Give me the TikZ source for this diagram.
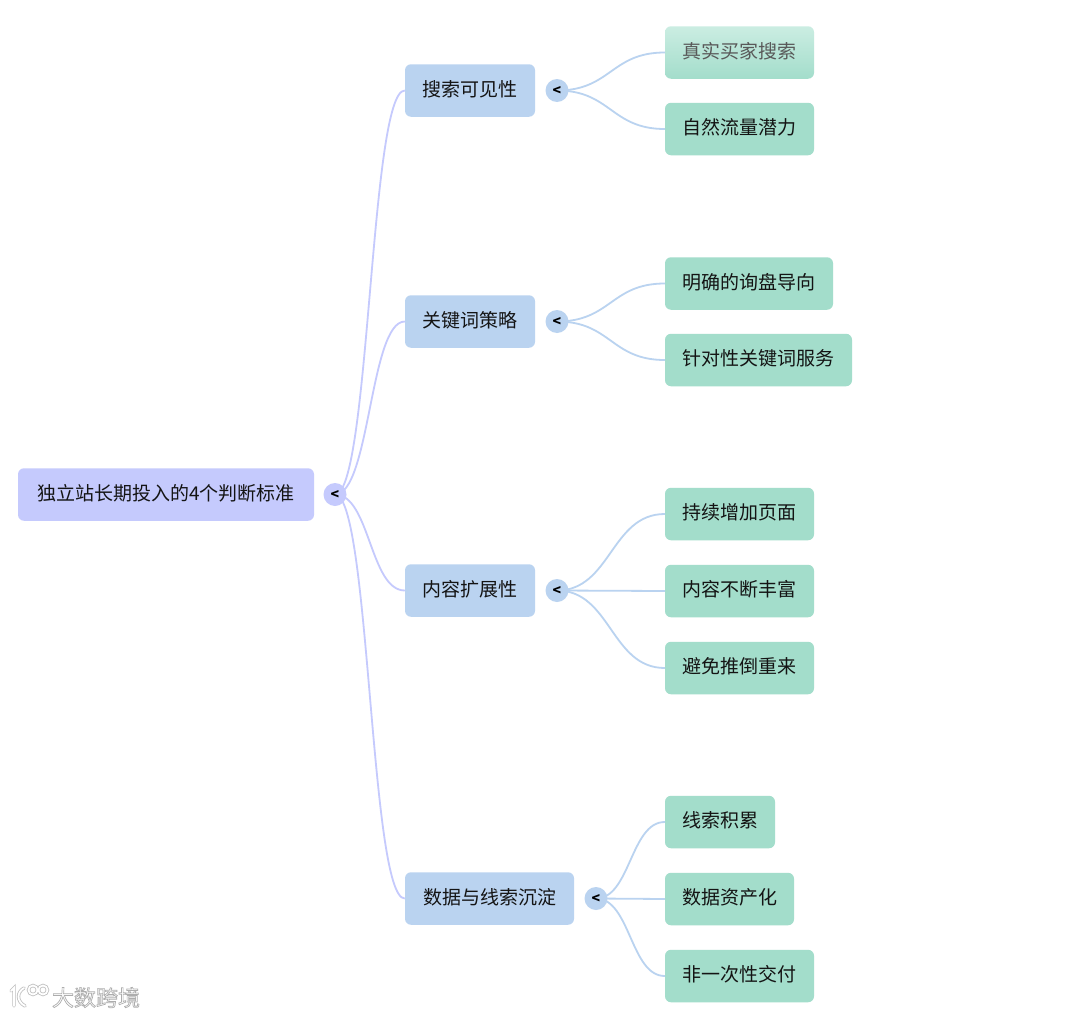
\documentclass[tikz,border=0pt]{standalone}
\usepackage{fontspec}
\usetikzlibrary{calc,backgrounds}
\setmainfont{Noto Sans CJK SC}
\tikzset{
  box/.style={rounded corners=6pt,minimum height=52.5pt,inner sep=0pt,text=black!92,align=center,text height=16pt,text depth=4.5pt,font=\fontsize{19}{23}\selectfont},
  rootbox/.style={box,fill=rootc},
  midbox/.style={box,fill=midc},
  leafbox/.style={box,fill=leafc},
  fadedbox/.style={box,top color=leaflight,bottom color=leafc,text=black!65},
  rootdot/.style={circle,fill=rootc,minimum size=23pt,inner sep=0pt,font=\fontsize{14}{14}\selectfont\bfseries,text=black},
  middot/.style={circle,fill=midc,minimum size=23pt,inner sep=0pt,font=\fontsize{14}{14}\selectfont\bfseries,text=black},
  rootlink/.style={draw=rootc,line width=1.8pt},
  midlink/.style={draw=midc,line width=1.8pt},
  wm/.style={font=\fontsize{22}{22}\selectfont,inner sep=0pt,text=white}
}
\definecolor{rootc}{HTML}{C5CAFD}
\definecolor{midc}{HTML}{BAD3F0}
\definecolor{leafc}{HTML}{A3DDCB}
\definecolor{leaflight}{HTML}{CBEDE2}
\definecolor{wmgray}{HTML}{8A8A8A}
\begin{document}
\begin{tikzpicture}[x=1pt,y=-1pt]
\begin{pgfonlayer}{background}
\path[use as bounding box,fill=white] (0,0) rectangle (1080,1017);
\end{pgfonlayer}
% root
\node[rootbox,minimum width=296pt] (root) at (166,494.5) {独立站长期投入的4个判断标准};
\node[rootdot] (rd) at (335,494.5) {<};
% level 1
\node[midbox,minimum width=130pt] (a) at (470,90.5) {搜索可见性};
\node[midbox,minimum width=130pt] (b) at (470,321.5) {关键词策略};
\node[midbox,minimum width=130pt] (c) at (470,590.5) {内容扩展性};
\node[midbox,minimum width=169pt] (d) at (489.5,898.5) {数据与线索沉淀};
\node[middot] (ad) at (557,90.5) {<};
\node[middot] (bd) at (557,321.5) {<};
\node[middot] (cd) at (557,590.5) {<};
\node[middot] (dd) at (596,898.5) {<};
% leaves
\node[fadedbox,minimum width=149pt] (a1) at (739.5,52.5) {真实买家搜索};
\node[leafbox,minimum width=149pt] (a2) at (739.5,129) {自然流量潜力};
\node[leafbox,minimum width=168pt] (b1) at (749,283.5) {明确的询盘导向};
\node[leafbox,minimum width=187pt] (b2) at (758.5,360) {针对性关键词服务};
\node[leafbox,minimum width=149pt] (c1) at (739.5,514) {持续增加页面};
\node[leafbox,minimum width=149pt] (c2) at (739.5,591) {内容不断丰富};
\node[leafbox,minimum width=149pt] (c3) at (739.5,668) {避免推倒重来};
\node[leafbox,minimum width=110pt] (d1) at (720,822) {线索积累};
\node[leafbox,minimum width=129pt] (d2) at (729.5,899) {数据资产化};
\node[leafbox,minimum width=149pt] (d3) at (739.5,976) {非一次性交付};
% connectors, behind the dots, running from each dot's centre
\begin{pgfonlayer}{background}
\foreach \t in {a,b,c,d}{
  \draw[rootlink] (rd.center) .. controls ($(rd.center)!.5!(\t.west|-rd.center)$) and ($(rd.center|-\t.west)!.5!(\t.west)$) .. (\t.west);
}
\foreach \s/\t in {ad/a1,ad/a2,bd/b1,bd/b2,cd/c1,cd/c2,cd/c3,dd/d1,dd/d2,dd/d3}{
  \draw[midlink] (\s.center) .. controls ($(\s.center)!.5!(\t.west|-\s.center)$) and ($(\s.center|-\t.west)!.5!(\t.west)$) .. (\t.west);
}
\end{pgfonlayer}
% watermark
\node[wm] (wmtext) at (96,997.5) {\special{pdf:code 2 Tr 0.68 G 0.7 w}大数跨境\special{pdf:code 0 Tr 0 G 1 w}};
\foreach \w/\c in {3.4pt/wmgray!55,1.8pt/white}{
  \draw[line width=\w,draw=\c,line cap=round]
    (11,991) -- (14,988) -- (14,1006)
    (24,988) .. controls (17,992) and (16,1001) .. (25,1006)
    (33,990) circle[radius=4.5]
    (43,990) circle[radius=4.5];
}
\end{tikzpicture}
\end{document}
